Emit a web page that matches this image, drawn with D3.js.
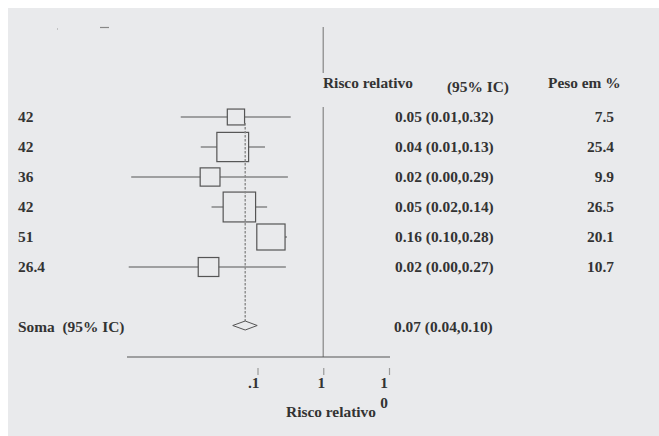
<!DOCTYPE html>
<html>
<head>
<meta charset="utf-8">
<script src="https://cdn.jsdelivr.net/npm/d3@7"></script>
<style>
body { margin:0; background:#fff; }
text { font-family:"Liberation Serif","Times New Roman",serif; font-weight:bold; font-size:14px; fill:#333; white-space:pre; }
</style>
</head>
<body>
<div id="chart"></div>
<script>
// forest plot, risco relativo
var studies = ['42','42','36','42','51','26.4']
var rr = [0.047,0.042,0.019,0.053,0.16,0.018]
var rr_lo = [0.0068,0.0137,0.0012,0.020,0.10,0.0011]
var rr_hi = [0.32,0.13,0.29,0.14,0.28,0.27]
var weights = [7.5,25.4,9.9,26.5,20.1,10.7]
var ci_labels = ['0.05 (0.01,0.32)','0.04 (0.01,0.13)','0.02 (0.00,0.29)','0.05 (0.02,0.14)','0.16 (0.10,0.28)','0.02 (0.00,0.27)']
var weight_labels = ['7.5','25.4','9.9','26.5','20.1','10.7']
var pooled = {label:'Soma  (95% IC)', est:0.065, lo:0.042, hi:0.099, text:'0.07 (0.04,0.10)'}
var tick_values = [0.1,1,10]
var tick_labels = ['.1','1','10']

var init = function(domelement){
	var width = 659, height = 436
	var svg = d3.select(domelement).append('svg')
		.attr('width',width).attr('height',height)

	svg.append('rect').attr('x',8).attr('y',8)
		.attr('width',width-8).attr('height',height-8)
		.attr('fill','#e9eaec')

	var x = d3.scaleLog().domain([0.001,10]).range([126,389])
	var y = d3.scaleLinear().domain([0,7]).range([117,327])
	var sx = 1.1

	var put_text = function(g,str,px,py,anchor){
		return g.append('text')
			.attr('transform','translate('+px+','+py+') scale('+sx+',1)')
			.attr('text-anchor',anchor || 'start')
			.attr('xml:space','preserve')
			.text(str)
	}

	// leftover marks top left
	svg.append('line').attr('x1',57).attr('x2',58).attr('y1',29).attr('y2',29)
		.attr('stroke','#999').attr('stroke-width',1)
	svg.append('line').attr('x1',100).attr('x2',109).attr('y1',27.5).attr('y2',27.5)
		.attr('stroke','#888').attr('stroke-width',1.2)

	// null line
	var null_shell = svg.append('g').attr('stroke','#999').attr('stroke-width',1.5)
	null_shell.append('line').attr('x1',x(1)).attr('x2',x(1)).attr('y1',27).attr('y2',73)
	null_shell.append('line').attr('x1',x(1)).attr('x2',x(1)).attr('y1',107).attr('y2',357)

	// header
	var head = svg.append('g')
	put_text(head,'Risco relativo',323,88)
	put_text(head,'(95% IC)',447,92)
	put_text(head,'Peso em %',548,88)

	var rows = svg.append('g').selectAll('g').data(studies).enter().append('g')

	rows.append('line')
		.attr('x1',function(d,i){ return x(rr_lo[i]) })
		.attr('x2',function(d,i){ return x(rr_hi[i]) })
		.attr('y1',function(d,i){ return y(i) })
		.attr('y2',function(d,i){ return y(i) })
		.attr('stroke','#555').attr('stroke-width',1.1)

	rows.append('rect')
		.attr('x',function(d,i){ return x(rr[i]) - 3.15*Math.sqrt(weights[i]) })
		.attr('y',function(d,i){ return y(i) - 2.9*Math.sqrt(weights[i]) })
		.attr('width',function(d,i){ return 6.3*Math.sqrt(weights[i]) })
		.attr('height',function(d,i){ return 5.8*Math.sqrt(weights[i]) })
		.attr('fill','#e9eaec').attr('stroke','#555').attr('stroke-width',1.2)

	rows.each(function(d,i){
		var g = d3.select(this)
		put_text(g,d,18,y(i)+4.5)
		put_text(g,ci_labels[i],395,y(i)+4.5)
		put_text(g,weight_labels[i],614,y(i)+4.5,'end')
	})

	// pooled estimate
	var py = y(7) - 1.5
	svg.append('line')
		.attr('x1',x(pooled.est)).attr('x2',x(pooled.est))
		.attr('y1',123).attr('y2',py-4.5)
		.attr('stroke','#8a8a8a').attr('stroke-width',1.4).attr('stroke-dasharray','2.5,1.5')
	svg.append('path')
		.attr('d','M'+x(pooled.lo)+','+py+'L'+x(pooled.est)+','+(py-4.5)+'L'+x(pooled.hi)+','+py+'L'+x(pooled.est)+','+(py+4.5)+'Z')
		.attr('fill','none').attr('stroke','#555').attr('stroke-width',1)
	put_text(svg,pooled.label,18,y(7)+4.5)
	put_text(svg,pooled.text,394,y(7)+4.5)

	// axis
	var axis_shell = svg.append('g').attr('transform','translate(0,357)')
	axis_shell.call(d3.axisBottom(x).tickValues(tick_values).tickSize(0).tickFormat(''))
	axis_shell.select('.domain').remove()
	axis_shell.append('line').attr('x1',127).attr('x2',390).attr('y1',0).attr('y2',0)
		.attr('stroke','#555').attr('stroke-width',1.2)
	axis_shell.selectAll('.tick line').attr('y1',11).attr('y2',18)
		.attr('stroke','#999').attr('stroke-width',1.2)
	axis_shell.selectAll('.tick').each(function(d,i){
		var g = d3.select(this)
		var lab = tick_labels[i]
		if (lab.length > 1 && lab[0] != '.') {
			put_text(g,lab[0],-1.5,31,'end')
			put_text(g,lab.slice(1),-1.5,51,'end')
		} else {
			put_text(g,lab,1.5,31,'end')
		}
	})
	put_text(svg,'Risco relativo',331,417,'middle')
}

init('#chart')
</script>
</body>
</html>
